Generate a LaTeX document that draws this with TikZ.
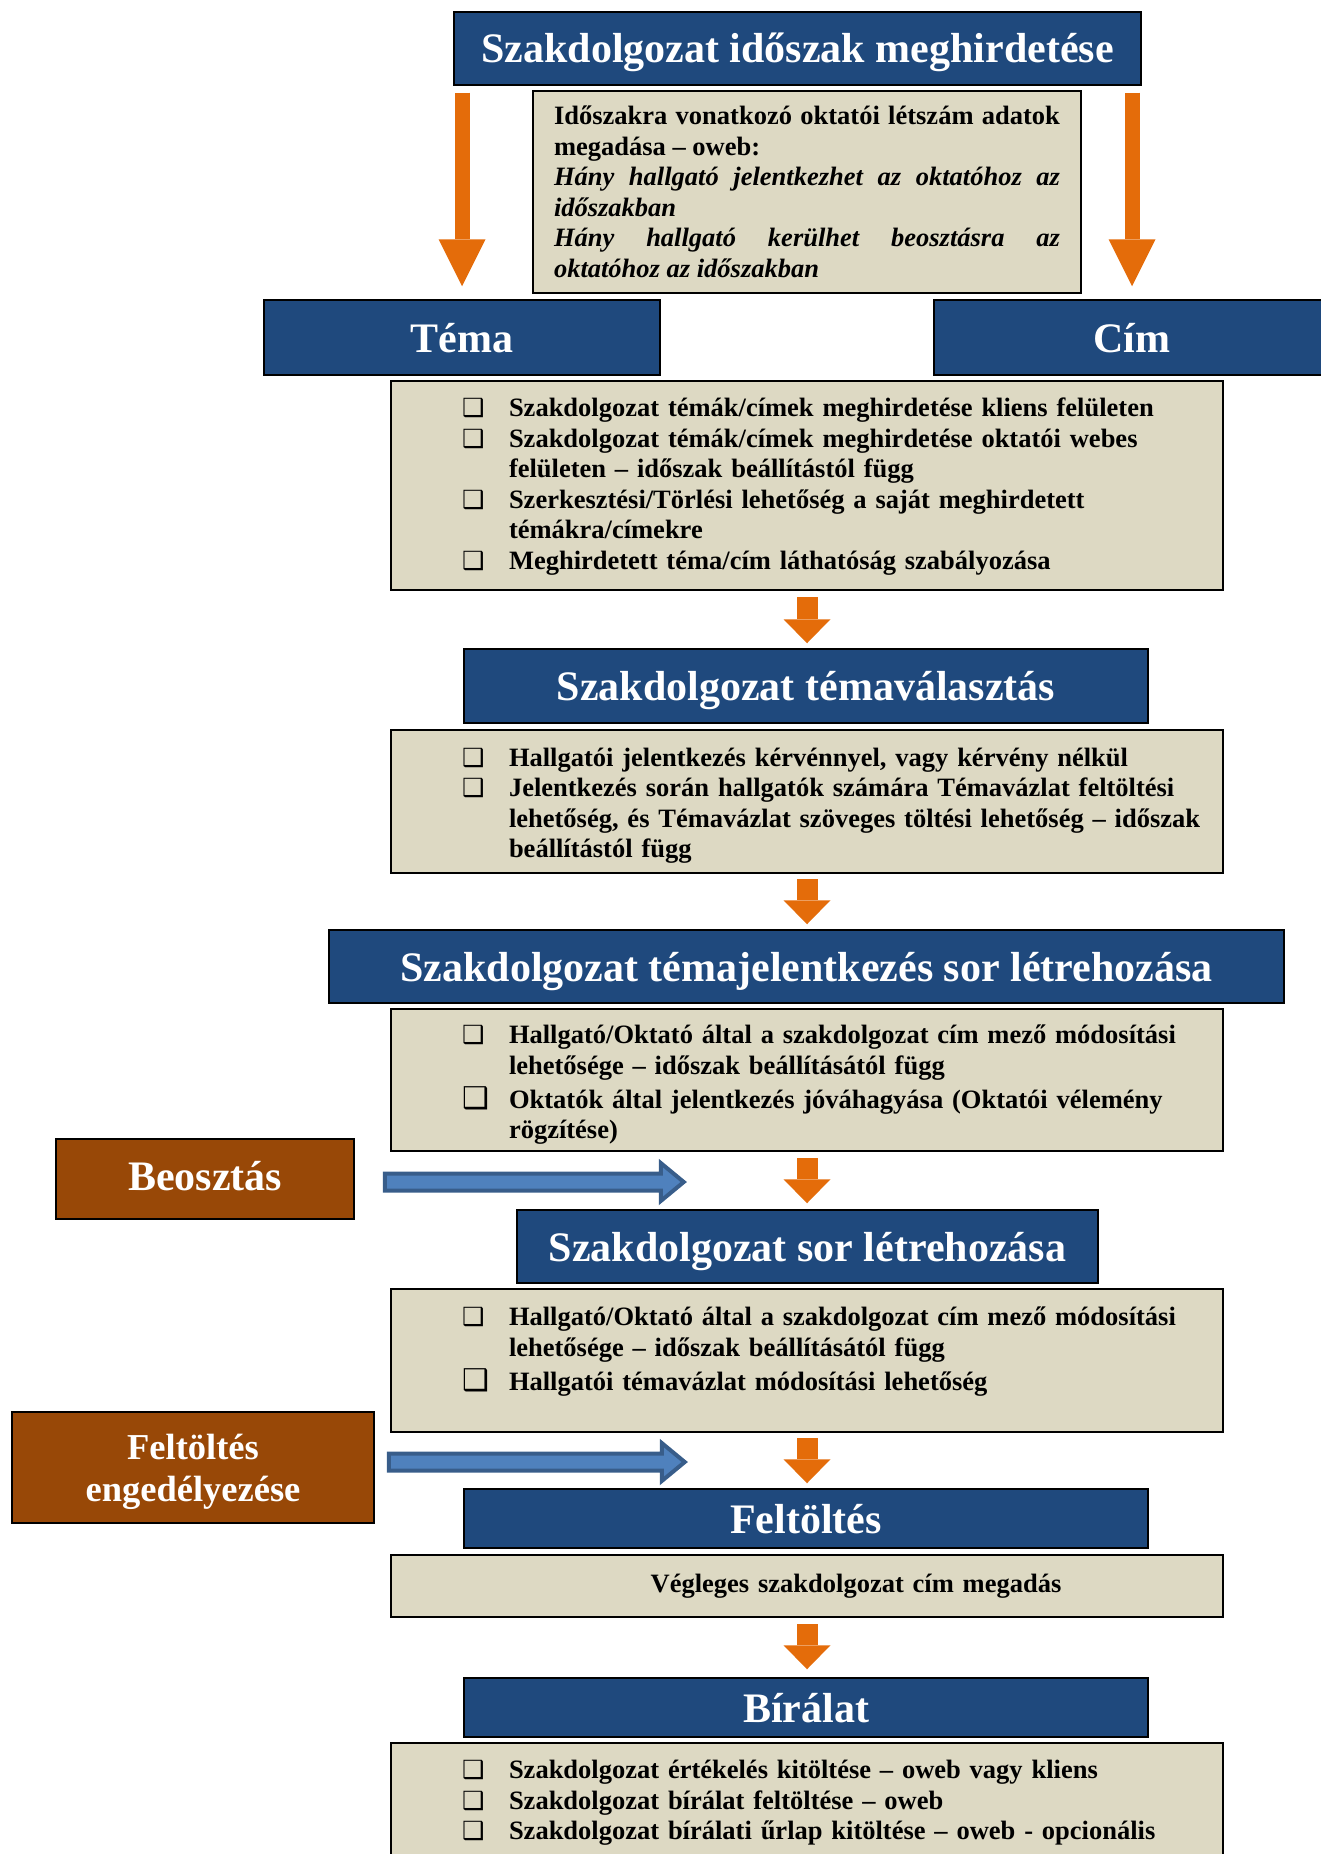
\documentclass[tikz,border=0pt]{standalone}
\usepackage{fontspec}
\setmainfont{Liberation Serif}
\newfontfamily\symfont{DejaVu Sans}
\usetikzlibrary{arrows.meta}
\definecolor{fejkek}{HTML}{1F497D}
\definecolor{dobozbez}{HTML}{DDD9C3}
\definecolor{narancs}{HTML}{E46C0A}
\definecolor{barna}{HTML}{984807}
\definecolor{nyilkek}{HTML}{4F81BD}
\definecolor{nyilkeret}{HTML}{385D8A}
\newcommand\chk[1][25]{{\symfont\fontsize{#1}{#1}\selectfont ❑}}
\newcommand\itm[2][25]{\par\leftskip=55pt\hangindent=47pt\hangafter=1\noindent\makebox[47pt][l]{\chk[#1]}#2\par}
\newcommand\mely[1]{\rule[-#1pt]{0pt}{#1pt}}
\def\blockarrow(#1)(#2){\draw[kekblokk] (#1) ++(0,-8.5) -- ++({#2-23},0) -- ++(0,-10.5) -- ++(23,19) -- ++(-23,19) -- ++(0,-10.5) -- ++({23-#2},0) -- cycle;}

\begin{document}
\begin{tikzpicture}[x=1pt, y=-1pt,
		fejlec/.style={draw=black, line width=1.5pt, fill=fejkek, text=white, inner sep=0pt, text height=29pt, text depth=0pt, font=\fontsize{42}{48}\selectfont\bfseries},
		barnadoboz/.style={draw=black, line width=1.5pt, fill=barna, text=white, inner sep=0pt, align=center, font=\fontsize{42}{48}\selectfont\bfseries},
		lista/.style={draw=black, line width=2.5pt, fill=dobozbez, minimum width=832pt, text width=800pt, align=left, inner sep=0pt, font=\fontsize{26.5}{30.5}\selectfont\bfseries},
		nagynyil/.style={draw=narancs, line width=15pt, -{Triangle[width=47pt,length=47pt,line width=0pt]}},
		narancsnyil/.style={draw=narancs, line width=21pt, -{Triangle[width=47pt,length=24pt,line width=0pt]}},
		kekblokk/.style={draw=nyilkeret, fill=nyilkek, line width=4pt}]
		%%%%% START %%%%%
		\useasboundingbox (0,0) rectangle (1321,1854);
		
		\node[fejlec, minimum width=687pt, minimum height=73pt] (idoszak) at (797.5,48.5) {Szakdolgozat időszak meghirdetése};
		\node[draw=black, line width=2.5pt, fill=dobozbez, minimum width=548pt, minimum height=202pt, text width=506pt, align=justify, inner sep=0pt, font=\fontsize{26.5}{30.5}\selectfont\bfseries] (letszam) at (807,192) {\parindent=0pt Időszakra vonatkozó oktatói létszám adatok\linebreak megadása – oweb:\par\itshape Hány hallgató jelentkezhet az oktatóhoz az\linebreak időszakban\par Hány hallgató kerülhet beosztásra az\linebreak oktatóhoz az időszakban};
		
		\node[fejlec, minimum width=396pt, minimum height=75pt] (tema) at (462,337.5) {Téma};
		\node[fejlec, minimum width=396pt, minimum height=75pt] (cim) at (1132,337.5) {Cím};
		\draw[nagynyil, shorten <=7pt, shorten >=13pt] (tema.north |- idoszak.south) -- (tema.north);
		\draw[nagynyil, shorten <=7pt, shorten >=13pt] (cim.north |- idoszak.south) -- (cim.north);
		
		\node[lista, minimum height=209pt] (hirdet) at (807,485.5) {\itm{Szakdolgozat témák/címek meghirdetése kliens felületen}\itm{Szakdolgozat témák/címek meghirdetése oktatói webes\newline felületen – időszak beállítástól függ}\itm{Szerkesztési/Törlési lehetőség a saját meghirdetett\newline témákra/címekre}\itm{Meghirdetett téma/cím láthatóság szabályozása\mely{16}}};
		
		\node[fejlec, minimum width=684pt, minimum height=74pt] (valaszt) at (806,686) {Szakdolgozat témaválasztás};
		\node[lista, minimum height=143pt] (jelentk) at (807,801.5) {\itm{Hallgatói jelentkezés kérvénnyel, vagy kérvény nélkül}\itm{Jelentkezés során hallgatók számára Témavázlat feltöltési\newline lehetőség, és Témavázlat szöveges töltési lehetőség – időszak\newline beállítástól függ\mely{10}}};
		
		\node[fejlec, minimum width=955pt, minimum height=73pt] (jelsor) at (806.5,966.5) {Szakdolgozat témajelentkezés sor létrehozása};
		\node[lista, minimum height=142pt] (jovahagy) at (807,1080) {\itm{Hallgató/Oktató által a szakdolgozat cím mező módosítási\newline lehetősége – időszak beállításától függ}\vspace{3.5pt}\itm[30]{Oktatók által jelentkezés jóváhagyása (Oktatói vélemény\newline rögzítése)\mely{8}}};
		
		\node[barnadoboz, minimum width=298pt, minimum height=80pt, text height=29pt, text depth=6pt] (beoszt) at (205,1179) {Beosztás};
		\blockarrow([xshift=30pt,yshift=-3pt]beoszt.east)(299)
		
		\node[fejlec, minimum width=581pt, minimum height=73pt] (sor) at (807.5,1246.5) {Szakdolgozat sor létrehozása};
		\node[lista, minimum height=143pt] (modosit) at (807,1360.5) {\itm{Hallgató/Oktató által a szakdolgozat cím mező módosítási\newline lehetősége – időszak beállításától függ}\vspace{3.5pt}\itm[30]{Hallgatói témavázlat módosítási lehetőség\mely{36}}};
		
		\node[barnadoboz, minimum width=362pt, minimum height=111pt, font=\fontsize{36.5}{41.5}\selectfont\bfseries] (engedely) at (193,1467.5) {\rule{0pt}{34pt}Feltöltés\\engedélyezése};
		\blockarrow([xshift=14pt,yshift=5.5pt]engedely.east)(296)
		
		\node[fejlec, minimum width=684pt, minimum height=59pt] (feltolt) at (806,1518.5) {Feltöltés};
		\node[lista, minimum height=62pt, align=center] (vegleges) at (807,1586) {\hspace*{98pt}Végleges szakdolgozat cím megadás};
		
		\node[fejlec, minimum width=684pt, minimum height=59pt] (biralat) at (806,1707.5) {Bírálat};
		\node[lista, minimum height=115pt] (ertekel) at (807,1800.5) {\itm{Szakdolgozat értékelés kitöltése – oweb vagy kliens}\itm{Szakdolgozat bírálat feltöltése – oweb}\itm{Szakdolgozat bírálati űrlap kitöltése – oweb - opcionális\mely{13}}};
		
		\draw[narancsnyil, shorten <=6pt, shorten >=5pt] (hirdet.south) -- (hirdet.south |- valaszt.north);
		\draw[narancsnyil, shorten <=5pt, shorten >=5pt] (jelentk.south) -- (jelentk.south |- jelsor.north);
		\draw[narancsnyil, shorten <=6pt, shorten >=6pt] (jovahagy.south) -- (jovahagy.south |- sor.north);
		\draw[narancsnyil, shorten <=5pt, shorten >=5pt] (modosit.south) -- (modosit.south |- feltolt.north);
		\draw[narancsnyil, shorten <=6pt, shorten >=8pt] (vegleges.south) -- (vegleges.south |- biralat.north);
		
		%%%%% END %%%%%
\end{tikzpicture}
\end{document}
